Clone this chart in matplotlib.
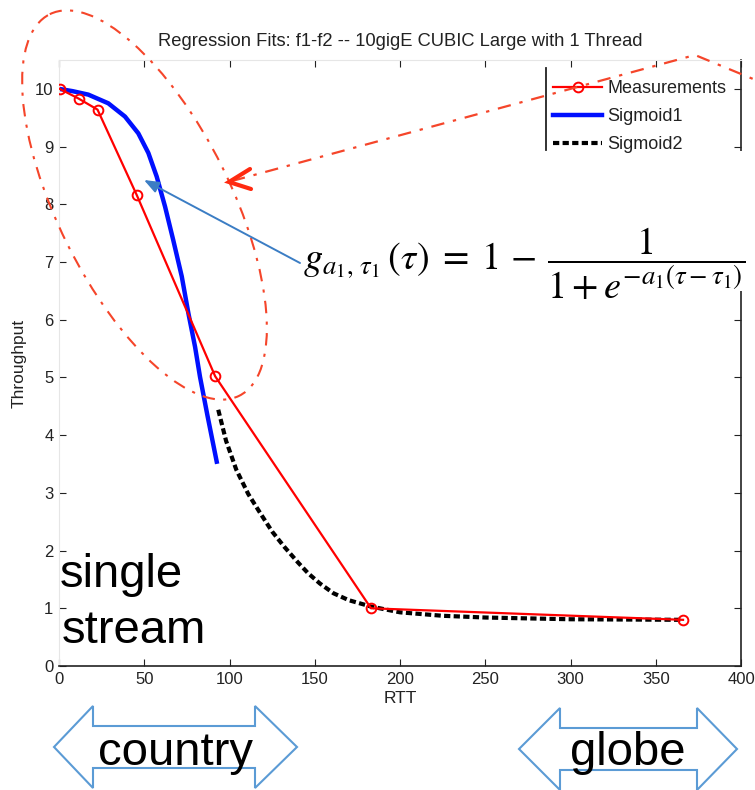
import matplotlib
matplotlib.use("Agg")
import matplotlib.pyplot as plt
from matplotlib.patches import Ellipse, Polygon, Rectangle
import numpy as np

plt.rcParams['font.family'] = ['Liberation Sans', 'DejaVu Sans']
plt.rcParams['mathtext.fontset'] = 'stix'

# ---------------- data ----------------
meas_rtt = [0.4, 11.6, 22.6, 45.6, 91.6, 183, 366]
meas_thr = [10.0, 9.83, 9.64, 8.16, 5.02, 1.0, 0.8]

sig1_rtt = [0, 8, 17.2, 28.9, 38.7, 46.5, 52.4, 57.3, 62.2, 67.0, 72.0, 75.9, 79.8, 82.7, 87.0, 92.5]
sig1_thr = [10.0, 9.96, 9.90, 9.75, 9.52, 9.23, 8.89, 8.48, 7.96, 7.38, 6.75, 6.11, 5.53, 5.01, 4.35, 3.54]

sig2_rtt = [93.4, 98, 104, 111, 118, 125, 132, 140, 146, 153, 161, 170, 183, 200, 225, 250, 300, 366]
sig2_thr = [4.44, 3.9, 3.40, 2.98, 2.65, 2.33, 2.07, 1.80, 1.61, 1.43, 1.26, 1.14, 1.03, 0.93, 0.87, 0.84, 0.81, 0.80]

x_ticks = [0, 50, 100, 150, 200, 250, 300, 350, 400]
y_ticks = [0, 1, 2, 3, 4, 5, 6, 7, 8, 9, 10]

title = "Regression Fits: f1-f2 -- 10gigE CUBIC Large with 1 Thread"
labels = ["Measurements", "Sigmoid1", "Sigmoid2"]

# ---------------- figure ----------------
W, H = 755, 790
fig = plt.figure(figsize=(W / 100, H / 100), dpi=100)
fig.patch.set_facecolor('white')

ax = fig.add_axes([59 / W, 1 - 666 / H, 682 / W, 606 / H])
ax.plot(meas_rtt, meas_thr, color='#ff0000', lw=1.6, marker='o', ms=7,
        mfc='none', mec='#ff0000', mew=1.4, label=labels[0], zorder=3)
ax.plot(sig1_rtt, sig1_thr, color='#0010ff', lw=3.2, label=labels[1], zorder=2,
        solid_joinstyle='round')
ax.plot(sig2_rtt, sig2_thr, color='black', lw=3.0, dashes=(1.5, 0.8),
        label=labels[2], zorder=2)

ax.set_xlim(0, 400)
ax.set_ylim(0, 10.5)
ax.set_xticks(x_ticks)
ax.set_yticks(y_ticks)
ax.tick_params(direction='in', top=True, right=True, length=5, labelsize=12,
               colors='#222222', pad=4)
for s in ['left', 'top']:
    ax.spines[s].set_color('#e6e6e6')
for s in ['right', 'bottom']:
    ax.spines[s].set_color('#222222')
    ax.spines[s].set_linewidth(1.2)

ax.set_title(title, fontsize=13.2, color='#222222', pad=10)
ax.set_xlabel("RTT", fontsize=12.5, color='#222222', labelpad=3)
ax.set_ylabel("Throughput", fontsize=12.5, color='#222222', labelpad=6)

leg = ax.legend(loc='upper left', bbox_to_anchor=(546 / W, 1 - 73 / H),
                bbox_transform=fig.transFigure, frameon=False, fontsize=13,
                handlelength=2.7, handletextpad=0.3, labelspacing=0.6,
                borderaxespad=0, borderpad=0.4)
for t in leg.get_texts():
    t.set_color('#222222')

# ---------------- overlay annotations (pixel coords) ----------------
ov = fig.add_axes([0, 0, 1, 1], zorder=10)
ov.set_xlim(0, W)
ov.set_ylim(H, 0)
ov.axis('off')
ov.patch.set_alpha(0)

# legend left border
ov.plot([546, 546], [68, 150], color='#222222', lw=1.3)

# white patch where the formula hides the right spine
ov.add_patch(Rectangle((700, 151), 55, 140, facecolor='white', edgecolor='none', zorder=1))

# dashed ellipse
ov.add_patch(Ellipse((144.5, 205), width=173, height=426, angle=-26.4,
                     fill=False, edgecolor='#f5452a', lw=1.5,
                     linestyle=(0, (6, 4, 1.5, 4)), zorder=3))

# callout dash-dot line with open arrow head
ov.plot([232, 695, 758], [181, 55, 81], color='#f5452a', lw=1.6,
        linestyle=(0, (6, 4, 1.5, 4)), zorder=3)
ov.plot([250, 229, 251], [169, 182, 189], color='#ff2a10', lw=3.0,
        solid_capstyle='round', solid_joinstyle='miter', zorder=4)

# blue arrow pointing to Sigmoid1
ov.annotate('', xy=(144, 180), xytext=(300, 263),
            arrowprops=dict(arrowstyle='-|>,head_length=0.9,head_width=0.35',
                            color='#3b7dc4', lw=1.4, shrinkA=0, shrinkB=0),
            zorder=4)

# formula
ov.text(303, 264,
        r'$g_{a_1,\,\tau_1}\,(\tau)\;=\;1\,-\,\dfrac{1}{1+e^{-a_1(\tau-\tau_1)}}$',
        fontsize=27.5, ha='left', va='center', color='black', zorder=5)

# single stream
ov.text(60, 587, "single", fontsize=34, ha='left', va='baseline', color='black', zorder=5)
ov.text(62, 643, "stream", fontsize=34, ha='left', va='baseline', color='black', zorder=5)

# double arrows
def dbl_arrow(xl, xr, yc, hb_l, hb_r, sh, hh):
    pts = [(xl, yc), (hb_l, yc - hh), (hb_l, yc - sh), (hb_r, yc - sh),
           (hb_r, yc - hh), (xr, yc), (hb_r, yc + hh), (hb_r, yc + sh),
           (hb_l, yc + sh), (hb_l, yc + hh)]
    ov.add_patch(Polygon(pts, closed=True, facecolor='none',
                         edgecolor='#5b9bd5', lw=1.5, zorder=3))

dbl_arrow(54, 297, 747, 93, 255, 21, 41)
dbl_arrow(519, 737, 749, 560, 697, 21, 41)
ov.text(175, 765, "country", fontsize=34, ha='center', va='baseline', color='black', zorder=5)
ov.text(628, 765, "globe", fontsize=34, ha='center', va='baseline', color='black', zorder=5)

fig.savefig("out.png", dpi=100, facecolor='white')
